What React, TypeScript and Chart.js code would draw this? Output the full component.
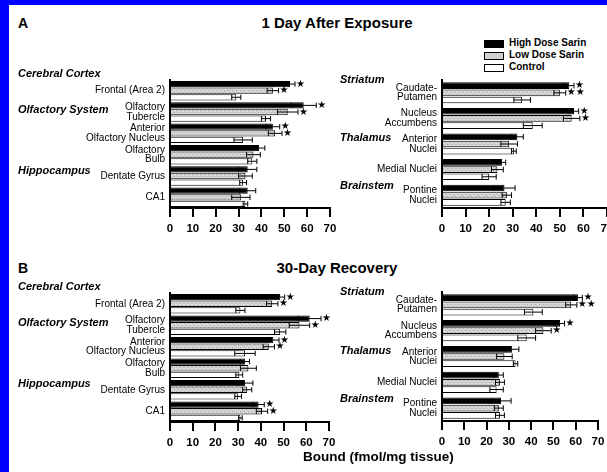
import React, { useEffect, useRef } from 'react';
import { Chart, registerables } from 'chart.js';

Chart.register(...registerables);

// ---------------- DATA ----------------
const seriesNames = ['High Dose Sarin', 'Low Dose Sarin', 'Control'];

const leftCategories: (string | string[])[] = [
  'Frontal (Area 2)',
  ['Olfactory', 'Tubercle'],
  ['Anterior', 'Olfactory Nucleus'],
  ['Olfactory', 'Bulb'],
  'Dentate Gyrus',
  'CA1',
];
const rightCategories: (string | string[])[] = [
  ['Caudate-', 'Putamen'],
  ['Nucleus', 'Accumbens'],
  ['Anterior', 'Nuclei'],
  'Medial Nuclei',
  ['Pontine', 'Nuclei'],
];

const leftGroups = ['Cerebral Cortex', 'Olfactory System', 'Hippocampus'];
const leftGroupIndex = [0, 1, 4];
const rightGroups = ['Striatum', 'Thalamus', 'Brainstem'];
const rightGroupIndex = [0, 2, 4];

const xTicks = [0, 10, 20, 30, 40, 50, 60, 70];

// Panel A: 1 Day After Exposure — left (cortex / olfactory / hippocampus)
const aLeftHigh = [52.5, 58.5, 45, 39, 34, 34];
const aLeftHighErr = [2.2, 5.5, 3, 2.5, 4, 3.5];
const aLeftLow = [45, 51.5, 46, 36.5, 33, 31];
const aLeftLowErr = [2.5, 4.5, 3, 3, 3, 4];
const aLeftCtrl = [29, 42, 32, 36, 32, 33];
const aLeftCtrlErr = [2, 2, 4, 2, 1.5, 1];
const aLeftHighSig = ['*', '*', '*', '', '', ''];
const aLeftLowSig = ['*', '*', '*', '', '', ''];

// Panel A — right (striatum / thalamus / brainstem)
const aRightHigh = [54, 56, 32, 25.5, 26.5];
const aRightHighErr = [2, 2, 2.5, 1.5, 4.5];
const aRightLow = [50, 55, 28.5, 23.5, 27.5];
const aRightLowErr = [2.5, 3.5, 3.5, 2.5, 2];
const aRightCtrl = [34, 38.5, 30.5, 20, 27];
const aRightCtrlErr = [3.5, 4, 1, 3, 2];
const aRightHighSig = ['*', '*', '', '', ''];
const aRightLowSig = ['**', '*', '', '', ''];

// Panel B: 30-Day Recovery — left
const bLeftHigh = [48.5, 61.5, 45.5, 33, 33, 39];
const bLeftHighErr = [2, 5, 2.5, 2, 3.5, 2.5];
const bLeftLow = [45, 57, 43.5, 34.5, 34, 40.5];
const bLeftLowErr = [2.5, 4.5, 2.5, 3.5, 2, 2.5];
const bLeftCtrl = [31, 48.5, 33, 30.5, 30, 31];
const bLeftCtrlErr = [2, 2.5, 4.5, 1.5, 1.5, 0.8];
const bLeftHighSig = ['*', '*', '*', '', '', '*'];
const bLeftLowSig = ['*', '*', '*', '', '', '*'];

// Panel B — right
const bRightHigh = [61, 53, 31.5, 25.5, 26.5];
const bRightHighErr = [2, 2, 3, 2, 4.5];
const bRightLow = [58, 45.5, 28, 26, 25.5];
const bRightLowErr = [2.5, 3.5, 3.5, 2, 2];
const bRightCtrl = [41, 38, 33, 24.5, 26];
const bRightCtrlErr = [4, 4, 1, 3, 2];
const bRightHighSig = ['*', '*', '', '', ''];
const bRightLowSig = ['**', '*', '', '', ''];

// ---------------- LAYOUT / STYLE ----------------
const FONT = '"Liberation Sans", Arial, Helvetica, sans-serif';
Chart.defaults.font.family = FONT;
Chart.defaults.color = '#000';

const LEFT_GROUP_DY = [-16.5, -2.5, -5.5];
const RIGHT_GROUP_DY = [-13, -6, -9];

type PanelSpec = {
  x: number; y: number; w: number; h: number;
  yWidth: number;
  cats: (string | string[])[];
  high: number[]; highErr: number[];
  low: number[]; lowErr: number[];
  ctrl: number[]; ctrlErr: number[];
  highSig: string[]; lowSig: string[];
  groups: string[]; groupIndex: number[]; groupDy: number[]; groupX: number;
  catPct: number; barPct: number;
};

function makePattern(): CanvasPattern | string {
  const c = document.createElement('canvas');
  c.width = 4; c.height = 4;
  const g = c.getContext('2d');
  if (!g) return '#cccccc';
  g.fillStyle = '#d2d2d2';
  g.fillRect(0, 0, 4, 4);
  g.fillStyle = '#a9a9a9';
  g.fillRect(0, 0, 1, 1);
  g.fillRect(2, 2, 1, 1);
  g.fillStyle = '#e6e6e6';
  g.fillRect(1, 3, 1, 1);
  g.fillRect(3, 1, 1, 1);
  return g.createPattern(c, 'repeat') || '#cccccc';
}

function makeOverlay(spec: PanelSpec) {
  const errs = [spec.highErr, spec.lowErr, spec.ctrlErr];
  const sigs = [spec.highSig, spec.lowSig, spec.ctrl.map(() => '')];
  return {
    id: 'overlay-' + Math.random().toString(36).slice(2),
    afterDatasetsDraw(chart: any) {
      const ctx: CanvasRenderingContext2D = chart.ctx;
      const xs = chart.scales.x;
      ctx.save();
      chart.data.datasets.forEach((ds: any, di: number) => {
        const meta = chart.getDatasetMeta(di);
        meta.data.forEach((bar: any, i: number) => {
          const v = ds.data[i];
          const e = errs[di][i];
          const x1 = xs.getPixelForValue(v - e);
          const x2 = xs.getPixelForValue(v + e);
          const yc = bar.y;
          const hh = Math.max(1.5, bar.height / 2 - 0.5);
          ctx.strokeStyle = '#000';
          ctx.lineWidth = 1;
          ctx.beginPath();
          ctx.moveTo(x1, yc);
          ctx.lineTo(x2, yc);
          ctx.moveTo(x1, yc - hh);
          ctx.lineTo(x1, yc + hh);
          ctx.moveTo(x2, yc - hh);
          ctx.lineTo(x2, yc + hh);
          ctx.stroke();
          const s = sigs[di][i];
          if (s) {
            ctx.fillStyle = '#000';
            ctx.font = 'bold 10px "DejaVu Sans", sans-serif';
            ctx.textAlign = 'left';
            ctx.textBaseline = 'middle';
            ctx.fillText(s.replace(/\*/g, '★'), x2 + 1, yc);
          }
        });
      });
      ctx.restore();
    },
    afterDraw(chart: any) {
      const ctx: CanvasRenderingContext2D = chart.ctx;
      const ys = chart.scales.y;
      ctx.save();
      ctx.fillStyle = '#000';
      ctx.font = 'italic bold 11px ' + FONT;
      ctx.textAlign = 'left';
      ctx.textBaseline = 'middle';
      spec.groups.forEach((g, k) => {
        const y = ys.getPixelForValue(spec.groupIndex[k]) + spec.groupDy[k];
        ctx.fillText(g, spec.groupX, y);
      });
      ctx.restore();
    },
  };
}

function buildConfig(spec: PanelSpec): any {
  const pattern = makePattern();
  const common = {
    borderColor: '#000',
    borderWidth: 1,
    categoryPercentage: spec.catPct,
    barPercentage: spec.barPct,
  };
  return {
    type: 'bar',
    data: {
      labels: spec.cats,
      datasets: [
        { label: seriesNames[0], data: spec.high, backgroundColor: '#000', ...common },
        { label: seriesNames[1], data: spec.low, backgroundColor: pattern, ...common },
        { label: seriesNames[2], data: spec.ctrl, backgroundColor: '#fff', ...common },
      ],
    },
    options: {
      indexAxis: 'y',
      responsive: false,
      maintainAspectRatio: false,
      animation: false,
      devicePixelRatio: 1,
      layout: { padding: { top: 20, right: 16, bottom: 4, left: 0 } },
      plugins: { legend: { display: false }, tooltip: { enabled: false }, title: { display: false } },
      scales: {
        x: {
          type: 'linear',
          min: xTicks[0],
          max: xTicks[xTicks.length - 1],
          afterBuildTicks: (s: any) => { s.ticks = xTicks.map((v) => ({ value: v })); },
          ticks: { color: '#000', font: { size: 11.5, weight: 'bold' }, padding: 5 },
          grid: { drawOnChartArea: false, drawTicks: true, tickLength: 9, lineWidth: 2, color: '#000' },
          border: { display: true, color: '#000', width: 2 },
          afterFit: (s: any) => { s.height = 28; },
        },
        y: {
          type: 'category',
          ticks: { color: '#000', font: { size: 10, lineHeight: 0.95 }, padding: 5, autoSkip: false },
          grid: { display: false, drawTicks: false },
          border: { display: true, color: '#000', width: 2 },
          afterFit: (s: any) => { s.width = spec.yWidth; },
        },
      },
    },
    plugins: [makeOverlay(spec)],
  };
}

function ChartPanel({ spec }: { spec: PanelSpec }) {
  const ref = useRef<HTMLCanvasElement>(null);
  useEffect(() => {
    if (!ref.current) return;
    const chart = new Chart(ref.current, buildConfig(spec));
    return () => chart.destroy();
  }, []);
  return (
    <canvas
      ref={ref}
      width={spec.w}
      height={spec.h}
      style={{ position: 'absolute', left: spec.x, top: spec.y, width: spec.w, height: spec.h }}
    />
  );
}

const panels: PanelSpec[] = [
  {
    x: 10, y: 60, w: 336, h: 180, yWidth: 160, cats: leftCategories,
    high: aLeftHigh, highErr: aLeftHighErr, low: aLeftLow, lowErr: aLeftLowErr,
    ctrl: aLeftCtrl, ctrlErr: aLeftCtrlErr, highSig: aLeftHighSig, lowSig: aLeftLowSig,
    groups: leftGroups, groupIndex: leftGroupIndex, groupDy: LEFT_GROUP_DY, groupX: 8,
    catPct: 0.93, barPct: 0.95,
  },
  {
    x: 335, y: 60, w: 288, h: 180, yWidth: 107, cats: rightCategories,
    high: aRightHigh, highErr: aRightHighErr, low: aRightLow, lowErr: aRightLowErr,
    ctrl: aRightCtrl, ctrlErr: aRightCtrlErr, highSig: aRightHighSig, lowSig: aRightLowSig,
    groups: rightGroups, groupIndex: rightGroupIndex, groupDy: RIGHT_GROUP_DY, groupX: 5,
    catPct: 0.84, barPct: 0.93,
  },
  {
    x: 10, y: 273, w: 335, h: 181, yWidth: 160, cats: leftCategories,
    high: bLeftHigh, highErr: bLeftHighErr, low: bLeftLow, lowErr: bLeftLowErr,
    ctrl: bLeftCtrl, ctrlErr: bLeftCtrlErr, highSig: bLeftHighSig, lowSig: bLeftLowSig,
    groups: leftGroups, groupIndex: leftGroupIndex, groupDy: LEFT_GROUP_DY, groupX: 8,
    catPct: 0.93, barPct: 0.95,
  },
  {
    x: 335, y: 272, w: 279, h: 181, yWidth: 107, cats: rightCategories,
    high: bRightHigh, highErr: bRightHighErr, low: bRightLow, lowErr: bRightLowErr,
    ctrl: bRightCtrl, ctrlErr: bRightCtrlErr, highSig: bRightHighSig, lowSig: bRightLowSig,
    groups: rightGroups, groupIndex: rightGroupIndex, groupDy: RIGHT_GROUP_DY, groupX: 5,
    catPct: 0.84, barPct: 0.93,
  },
];

const textBase: React.CSSProperties = {
  position: 'absolute',
  fontFamily: FONT,
  fontWeight: 'bold',
  color: '#000',
  whiteSpace: 'nowrap',
  lineHeight: 1,
};

function Legend() {
  const fills = ['#000', '#d0d0d0', '#fff'];
  return (
    <>
      {seriesNames.map((name, i) => (
        <React.Fragment key={name}>
          <div
            style={{
              position: 'absolute', left: 484, top: 40 + i * 12, width: 18, height: 6,
              background: fills[i], border: '1px solid #000',
            }}
          />
          <div style={{ ...textBase, left: 509, top: 38 + i * 12, fontSize: 10 }}>{name}</div>
        </React.Fragment>
      ))}
    </>
  );
}

export default function App() {
  return (
    <div
      style={{
        position: 'fixed', left: 0, top: 0, width: 607, height: 472,
        background: '#fff', overflow: 'hidden',
      }}
    >
      <div style={{ position: 'absolute', left: 0, top: 0, width: 9, height: 472, background: '#0000ff' }} />
      <div style={{ position: 'absolute', left: 0, top: 0, width: 607, height: 5, background: '#0000ff' }} />

      <div style={{ ...textBase, left: 18, top: 16, fontSize: 14 }}>A</div>
      <div style={{ ...textBase, left: 237, width: 200, textAlign: 'center', top: 15, fontSize: 15 }}>
        1 Day After Exposure
      </div>
      <Legend />

      <div style={{ ...textBase, left: 18, top: 261, fontSize: 14 }}>B</div>
      <div style={{ ...textBase, left: 237, width: 200, textAlign: 'center', top: 260, fontSize: 15 }}>
        30-Day Recovery
      </div>

      {panels.map((p, i) => (
        <ChartPanel key={i} spec={p} />
      ))}

      <div style={{ ...textBase, left: 303, top: 450, fontSize: 13.5 }}>Bound (fmol/mg tissue)</div>
    </div>
  );
}
